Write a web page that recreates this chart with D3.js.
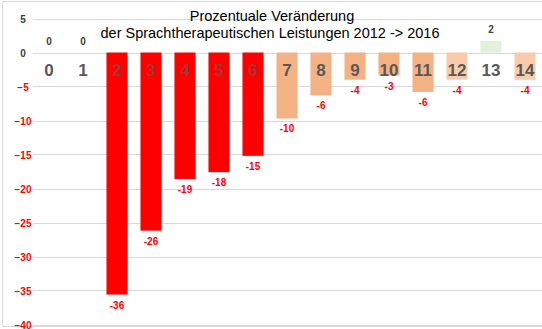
<!DOCTYPE html>
<html><head><meta charset="utf-8">
<script src="https://cdn.jsdelivr.net/npm/d3@7"></script>
<style>body{margin:0;background:#fff}svg{display:block;font-family:"Liberation Sans",Arial,sans-serif}</style>
</head><body><svg id="c" width="542" height="329"></svg>
<script>
const categories = ["0","1","2","3","4","5","6","7","8","9","10","11","12","13","14"];
const values = [0,0,-35.6,-26.2,-18.6,-17.6,-15.2,-9.7,-6.3,-4.0,-3.4,-5.8,-4.0,1.7,-4.0];
const valueLabels = ["0","0","-36","-26","-19","-18","-15","-10","-6","-4","-3","-6","-4","2","-4"];
const groups = ["none","none","red","red","red","red","red","orange","orange","orange","orange","orange","peach","green","peach"];
const yTicks = [5,0,-5,-10,-15,-20,-25,-30,-35,-40];
const titleLines = ["Prozentuale Veränderung","der Sprachtherapeutischen Leistungen 2012 -> 2016"];

const colors = {none:"none", red:"#FF0000", orange:"#F4B183", peach:"#F8CBAD", green:"#E2EFDA"};
const catColors = {none:"#595959", red:"#A83434", orange:"#595959", peach:"#595959", green:"#595959"};

const svg = d3.select("#c");
const W = 542, H = 329;
svg.append("rect").attr("x",2.5).attr("y",1.5).attr("width",W+10).attr("height",H-4).attr("fill","none").attr("stroke","#D9D9D9");

const x = d3.scaleBand().domain(categories).range([32,542]).paddingInner(0.38).paddingOuter(0.19);
const y = d3.scaleLinear().domain([-40,5]).range([324.5,18.5]);

svg.append("g").selectAll("line").data(yTicks).join("line")
  .attr("x1",33).attr("x2",542).attr("y1",d=>Math.round(y(d))+0.5).attr("y2",d=>Math.round(y(d))+0.5)
  .attr("stroke","#D9D9D9").attr("stroke-width",1);

const yAxis = d3.axisLeft(y).tickValues(yTicks).tickSize(0).tickPadding(0);
const ga = svg.append("g").attr("transform","translate(23,0)").call(yAxis);
ga.select(".domain").remove();
ga.selectAll("text").attr("font-size",10).attr("font-weight","bold")
  .attr("font-family","Liberation Sans, Arial, sans-serif")
  .attr("fill",d=>d<0?"#FF0000":"#404040").attr("text-anchor","middle").attr("dy","0.35em");

svg.append("g").selectAll("rect").data(values).join("rect")
  .attr("x",(d,i)=>x(categories[i]))
  .attr("width",x.bandwidth())
  .attr("y",d=>y(Math.max(0,d)))
  .attr("height",d=>Math.abs(y(d)-y(0)))
  .attr("fill",(d,i)=>colors[groups[i]]);

svg.append("g").selectAll("text").data(categories).join("text")
  .attr("x",d=>x(d)+x.bandwidth()/2).attr("y",76)
  .attr("text-anchor","middle").attr("font-size",17).attr("font-weight","bold")
  .attr("fill",(d,i)=>catColors[groups[i]]).text(d=>d);

svg.append("g").selectAll("text").data(values).join("text")
  .attr("x",(d,i)=>x(categories[i])+x.bandwidth()/2)
  .attr("y",d=>d<0? y(d)+14 : y(d)-8)
  .attr("text-anchor","middle").attr("font-size",10).attr("font-weight","bold")
  .attr("fill",d=>d<0?"#FF0000":"#404040")
  .text((d,i)=>valueLabels[i]);

svg.append("g").selectAll("text").data(titleLines).join("text")
  .attr("x",(d,i)=>i===0?272:270).attr("y",(d,i)=>i===0?21:38)
  .attr("text-anchor","middle").attr("font-size",14.5).attr("fill","#000")
  .text(d=>d);
</script></body></html>
